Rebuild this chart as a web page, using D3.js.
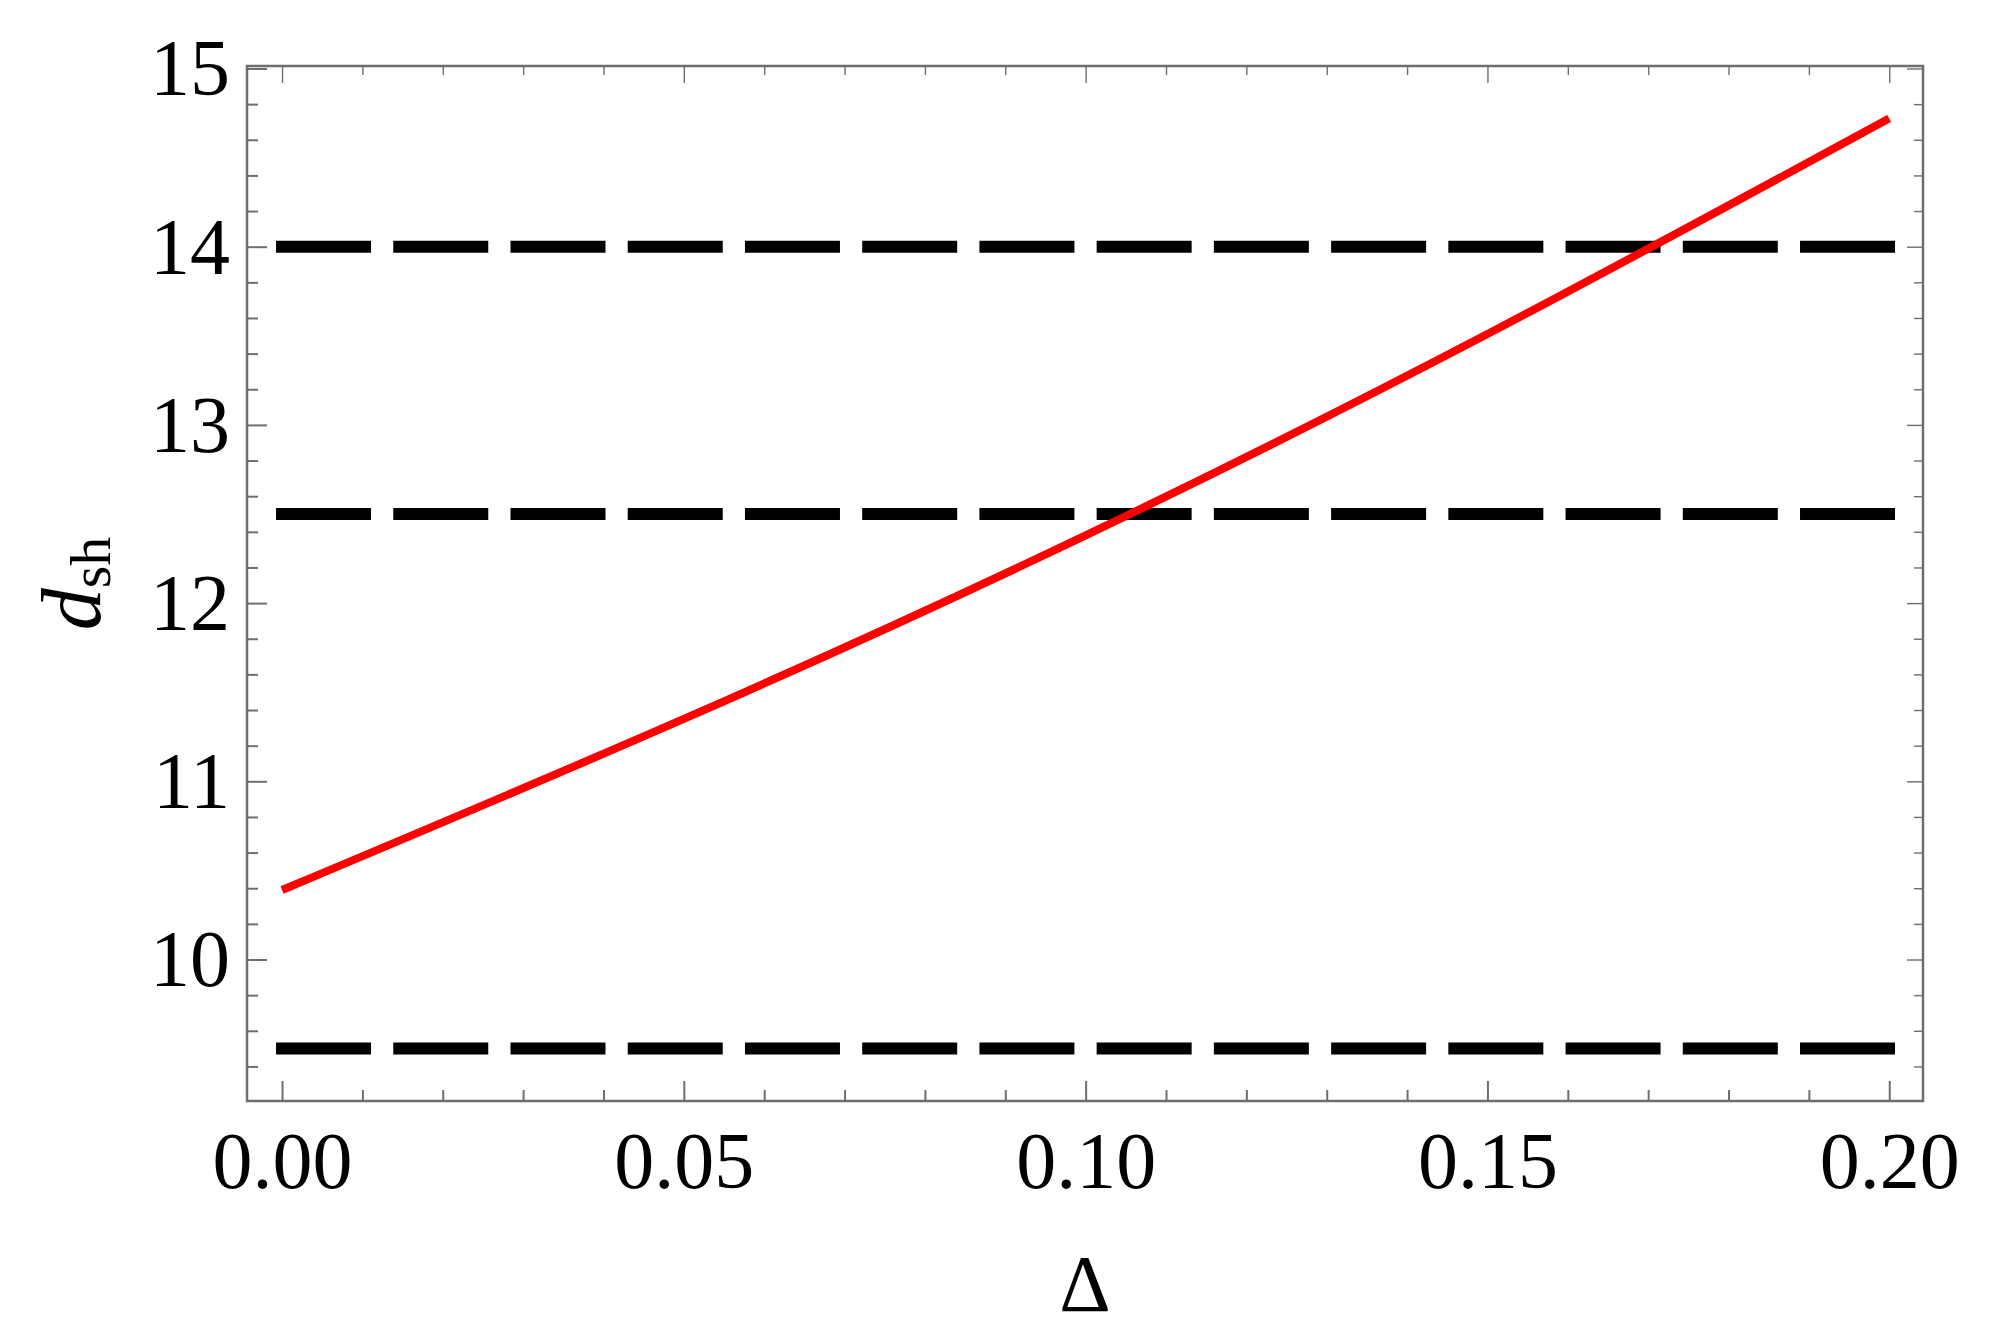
<!DOCTYPE html>
<html>
<head>
<meta charset="utf-8">
<script src="https://cdn.jsdelivr.net/npm/d3@7"></script>
<style>
  body { margin: 0; background: #fff; }
  text { font-family: "Liberation Serif", "Times New Roman", serif; fill: #000; }
</style>
</head>
<body>
<svg id="chart" width="1989" height="1338"></svg>
<script>
// red curve d_sh(Delta)
var deltaVals = [0, 0.05, 0.1, 0.15, 0.2];
var dshVals   = [10.39, 11.35, 12.38, 13.51, 14.72];

// horizontal dashed reference levels
var refLevels = [14, 12.5, 9.5];

var xTicks = [0, 0.05, 0.1, 0.15, 0.2];
var yTicks = [10, 11, 12, 13, 14, 15];

var svg = d3.select("#chart");
var pLeft = 247, pRight = 1923, pTop = 66, pBottom = 1101;

var x = d3.scaleLinear().domain([-0.00436, 0.2042]).range([pLeft, pRight]);
var y = d3.scaleLinear().domain([9.206, 15.014]).range([pBottom, pTop]);

var frameColor = "#6e6e6e";

// minor tick values
var xMinor = d3.range(0, 0.2001, 0.01).filter(function(v) {
  return xTicks.every(function(t) { return Math.abs(t - v) > 1e-6; });
});
var yMinor = d3.range(9.4, 15.001, 0.2).filter(function(v) {
  return yTicks.every(function(t) { return Math.abs(t - v) > 1e-6; });
});

function tickAxis(axisFn, scale, vals, len, g, w) {
  g.call(axisFn(scale).tickValues(vals).tickSize(len).tickFormat(""));
  g.select(".domain").remove();
  g.selectAll(".tick line").attr("stroke", frameColor).attr("stroke-width", w);
}

// bottom axis (labels + major ticks)
var gB = svg.append("g").attr("transform", "translate(0," + pBottom + ")");
gB.call(d3.axisBottom(x).tickValues(xTicks).tickSize(-20).tickPadding(0)
  .tickFormat(d3.format(".2f")));
gB.select(".domain").remove();
gB.selectAll(".tick line").attr("stroke", frameColor).attr("stroke-width", 2);
gB.selectAll(".tick text").attr("font-size", 80).attr("y", 87).attr("dy", 0)
  .style("font-family", "Liberation Serif");
tickAxis(d3.axisBottom, x, xMinor, -11, svg.append("g").attr("transform", "translate(0," + pBottom + ")"), 2);

// top axis ticks
tickAxis(d3.axisTop, x, xTicks, -17, svg.append("g").attr("transform", "translate(0," + pTop + ")"), 1.4);
tickAxis(d3.axisTop, x, xMinor, -9, svg.append("g").attr("transform", "translate(0," + pTop + ")"), 1.4);

// left axis
var gL = svg.append("g").attr("transform", "translate(" + pLeft + ",0)");
gL.call(d3.axisLeft(y).tickValues(yTicks).tickSize(-20).tickPadding(0)
  .tickFormat(d3.format("d")));
gL.select(".domain").remove();
gL.selectAll(".tick line").attr("stroke", frameColor).attr("stroke-width", 2);
gL.selectAll(".tick text").attr("font-size", 80).attr("x", -17).attr("dy", "0.33em")
  .style("font-family", "Liberation Serif");
tickAxis(d3.axisLeft, y, yMinor, -11, svg.append("g").attr("transform", "translate(" + pLeft + ",0)"), 2);

// right axis ticks
tickAxis(d3.axisRight, y, yTicks, -16, svg.append("g").attr("transform", "translate(" + pRight + ",0)"), 1.4);
tickAxis(d3.axisRight, y, yMinor, -9, svg.append("g").attr("transform", "translate(" + pRight + ",0)"), 1.4);

// frame
svg.append("rect")
  .attr("x", pLeft).attr("y", pTop)
  .attr("width", pRight - pLeft).attr("height", pBottom - pTop)
  .attr("fill", "none").attr("stroke", frameColor).attr("stroke-width", 2.5);

// dashed levels
svg.selectAll(".ref")
  .data(refLevels)
  .enter().append("line")
    .attr("class", "ref")
    .attr("x1", x(0)).attr("x2", x(0.2))
    .attr("y1", function(d) { return y(d); })
    .attr("y2", function(d) { return y(d); })
    .attr("stroke", "#000")
    .attr("stroke-width", 12)
    .attr("stroke-linecap", "square")
    .attr("stroke-dasharray", "83,34.23");

// red curve
var pts = deltaVals.map(function(d, i) { return {x: d, y: dshVals[i]}; });
var line = d3.line()
  .curve(d3.curveNatural)
  .x(function(d) { return x(d.x); })
  .y(function(d) { return y(d.y); });

svg.append("path")
  .datum(pts)
  .attr("d", line)
  .attr("fill", "none")
  .attr("stroke", "#ff0000")
  .attr("stroke-width", 8);

// axis labels
svg.append("text")
  .attr("x", (pLeft + pRight) / 2)
  .attr("y", 1311)
  .attr("text-anchor", "middle")
  .attr("font-size", 80)
  .text("Δ");

var yl = svg.append("text")
  .attr("transform", "translate(100," + ((pTop + pBottom) / 2) + ") rotate(-90)")
  .attr("text-anchor", "middle")
  .attr("font-size", 84);
yl.append("tspan").attr("font-style", "italic").text("d");
yl.append("tspan").attr("font-size", 58).attr("dy", 10).text("sh");
</script>
</body>
</html>
